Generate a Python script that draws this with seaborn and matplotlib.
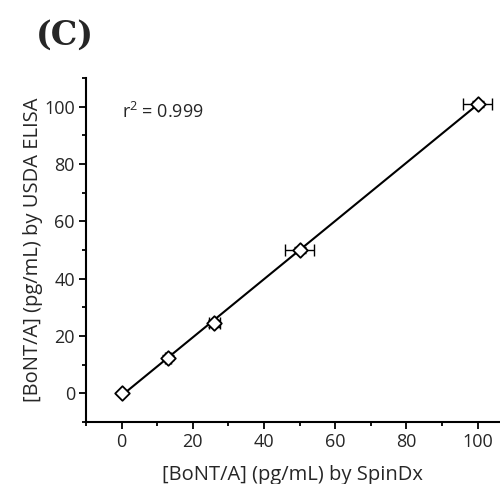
import numpy as np
import pandas as pd
import matplotlib
matplotlib.use("Agg")
import matplotlib.pyplot as plt
import seaborn as sns
from matplotlib.ticker import MultipleLocator

spindx = [0.0, 13.0, 26.0, 50.0, 100.0]
elisa = [0.0, 12.5, 24.5, 50.0, 101.0]
spindx_err = [0.0, 0.8, 1.5, 4.0, 4.0]
elisa_err = [0.0, 0.8, 1.2, 1.0, 1.0]
r2_text = "r$^2$ = 0.999"

df = pd.DataFrame({"x": spindx, "y": elisa})

sns.set_style("ticks")
plt.rcParams['font.family'] = ['Open Sans', 'DejaVu Sans']
plt.rcParams['mathtext.fontset'] = 'custom'
plt.rcParams['mathtext.rm'] = 'Open Sans'

fig = plt.figure(figsize=(5.0, 4.84), dpi=100)
ax = fig.add_axes([0.172, 0.128, 0.826, 0.711])

sns.regplot(data=df, x="x", y="y", ax=ax, ci=None, scatter=False,
            line_kws=dict(color="black", lw=1.5))
ax.errorbar(spindx, elisa, xerr=spindx_err, yerr=elisa_err, fmt='none',
            ecolor='black', elinewidth=1.0, capsize=4, capthick=1.0, zorder=3)
sns.scatterplot(data=df, x="x", y="y", ax=ax, marker='D', s=55,
                facecolor='white', edgecolor='black', linewidth=1.3, zorder=4)

ax.set_xlim(-10, 106)
ax.set_ylim(-10, 110)
ax.xaxis.set_major_locator(MultipleLocator(20))
ax.xaxis.set_minor_locator(MultipleLocator(10))
ax.yaxis.set_major_locator(MultipleLocator(20))
ax.yaxis.set_minor_locator(MultipleLocator(10))
ax.tick_params(which='major', length=5, width=1.3, labelsize=13, color='black', pad=3)
ax.tick_params(which='minor', length=3, width=1.3, color='black')
for s in ['left', 'bottom']:
    ax.spines[s].set_linewidth(1.5)
    ax.spines[s].set_color('black')
sns.despine(ax=ax)

ax.set_xlabel("[BoNT/A] (pg/mL) by SpinDx", fontsize=14.5, labelpad=10)
ax.set_ylabel("[BoNT/A] (pg/mL) by USDA ELISA", fontsize=14.5, labelpad=1)
ax.text(0, 96, r2_text, fontsize=13, ha='left', va='baseline')

fig.text(0.072, 0.927, "(C)", fontsize=24, fontweight='bold',
         family=['DejaVu Serif'], ha='left', va='center')

fig.savefig("out.png", dpi=100)
